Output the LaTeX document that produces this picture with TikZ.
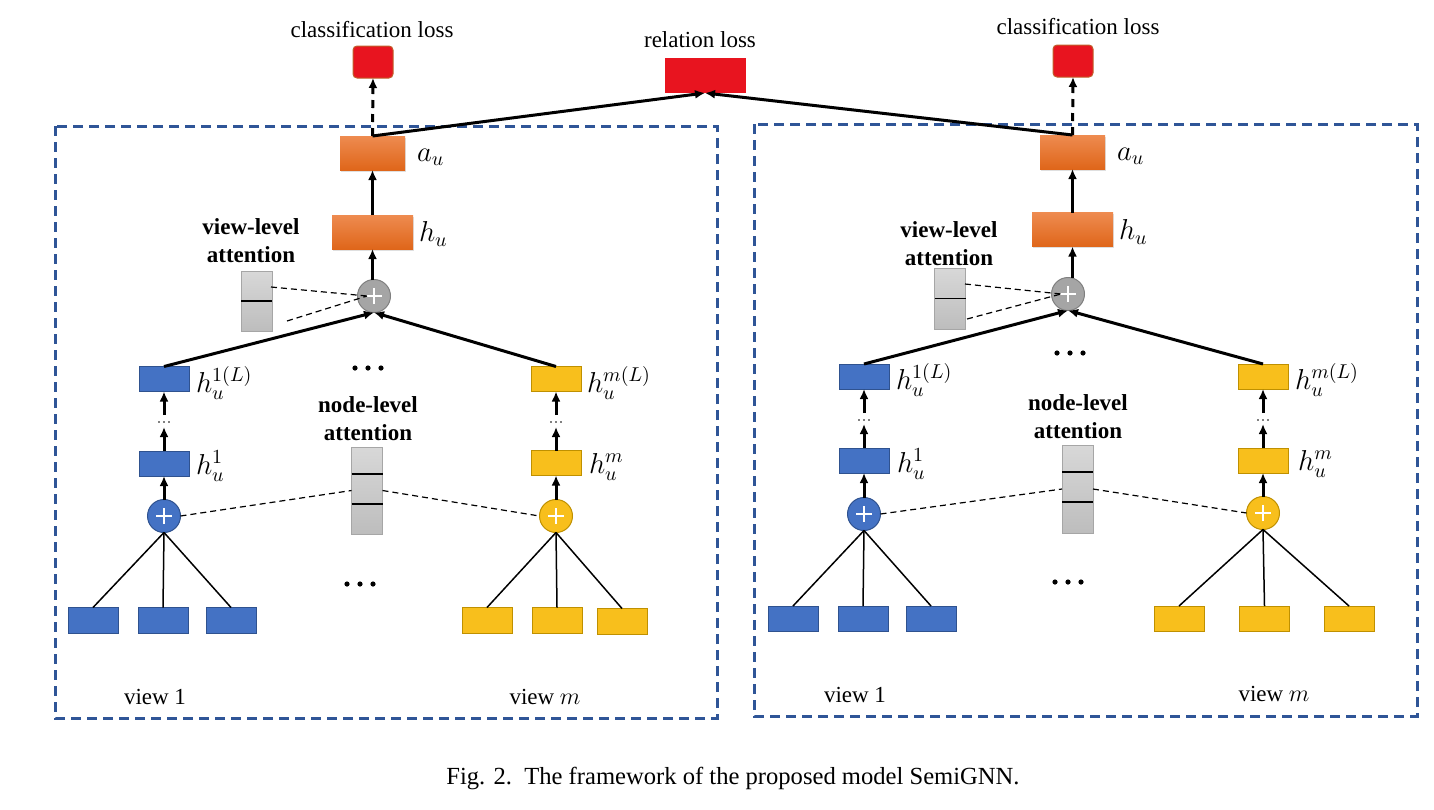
\documentclass[tikz,border=0pt]{standalone}
\usepackage{fontspec}
\setmainfont{Liberation Serif}
\usetikzlibrary{arrows.meta,calc,shadows}
\definecolor{bfill}{HTML}{4472C4}
\definecolor{bdraw}{HTML}{2F528F}
\definecolor{yfill}{HTML}{F8BF1C}
\definecolor{ydraw}{HTML}{BF9000}
\definecolor{otop}{HTML}{EE8B50}
\definecolor{obot}{HTML}{DF661A}
\definecolor{rfill}{HTML}{E8141F}
\definecolor{rdraw}{HTML}{C0602A}
\definecolor{gtop}{HTML}{D8D8D8}
\definecolor{gbot}{HTML}{BDBDBD}
\definecolor{gdraw}{HTML}{A6A6A6}
\definecolor{cgray}{HTML}{A5A5A5}
\definecolor{cgraydraw}{HTML}{7F7F7F}
\definecolor{framec}{HTML}{2F5597}
\tikzset{
  every node/.style={inner sep=0pt, outer sep=0pt},
  lab/.style={font=\fontsize{11.5}{13.8}\selectfont},
  blab/.style={font=\fontsize{11.5}{14}\selectfont\bfseries, align=center},
  mlab/.style={font=\fontsize{14}{16}\selectfont, anchor=west},
  capt/.style={font=\fontsize{12.3}{14}\selectfont},
  framebox/.style={draw=framec, line width=1.5pt, dash pattern=on 5pt off 3pt},
  bluebox/.style={rectangle, fill=bfill, draw=bdraw, line width=0.5pt, minimum width=25pt, minimum height=12.5pt},
  yelbox/.style={rectangle, fill=yfill, draw=ydraw, line width=0.5pt, minimum width=25pt, minimum height=12.5pt},
  orbox/.style={rectangle, top color=otop, bottom color=obot, draw=none, minimum height=17pt,
    drop shadow={opacity=0.25, shadow xshift=0.6pt, shadow yshift=-0.8pt}},
  redbox/.style={rectangle, fill=rfill, draw=rdraw, line width=0.5pt},
  gbar/.style={rectangle, top color=gtop, bottom color=gbot, draw=gdraw, line width=0.5pt, minimum width=15.5pt},
  plusc/.style={circle, minimum size=16.5pt, line width=0.5pt,
    path picture={
      \draw[white, line width=0.6pt] ([xshift=-4pt]path picture bounding box.center) -- ([xshift=4pt]path picture bounding box.center);
      \draw[white, line width=0.6pt] ([yshift=-4pt]path picture bounding box.center) -- ([yshift=4pt]path picture bounding box.center);}},
  bluec/.style={plusc, fill=bfill, draw=bdraw},
  yelc/.style={plusc, fill=yfill, draw=ydraw},
  grayc/.style={plusc, fill=cgray, draw=cgraydraw},
  arr/.style={line width=1.5pt, -{Latex[length=5pt,width=4.5pt]}},
  darr/.style={line width=1.5pt, dash pattern=on 4pt off 3pt, -{Latex[length=5pt,width=4.5pt]}},
  thin/.style={line width=0.75pt},
  att/.style={line width=0.6pt, dash pattern=on 3pt off 2pt},
}
\begin{document}
\begin{tikzpicture}[x=0.5pt,y=-0.5pt]
\useasboundingbox (0,0) rectangle (1434,809);
% frames
\draw[framebox] (55,126) rectangle (717,718);
\draw[framebox] (754,124) rectangle (1417,716);

% losses
\node[redbox, rounded corners=2pt, minimum width=20pt, minimum height=16pt] (clsL) at (373,62) {};
\node[redbox, draw=none, minimum width=40.5pt, minimum height=17.5pt] (rel) at (705,75.5) {};
\node[redbox, rounded corners=2pt, minimum width=20pt, minimum height=16pt] (clsR) at (1073,61) {};
\node[lab] (tclsL) at (372,30) {classification loss};
\node[lab] (trel) at (700,40) {relation loss};
\node[lab] (tclsR) at (1078,27) {classification loss};

% ===== left panel =====
\node[orbox, minimum width=32.5pt] (auL) at (372.5,153) {};
\node[orbox, minimum width=40.5pt] (huL) at (372.5,232) {};
\node[mlab] (tauL) at (417,157) {$a_u$};
\node[mlab] (thuL) at (419,234) {$h_u$};
\node[grayc] (vcL) at (374,296) {};
\node[gbar, minimum height=30pt] (vbL) at (256.5,301) {};
\draw[line width=0.8pt] (vbL.west) -- (vbL.east);
\node[blab] (tvL) at (251,241) {view-level\\attention};
\node[bluebox] (h1LL) at (164,379) {};
\node[yelbox] (hmLL) at (556,379) {};
\node[bluebox] (h1L) at (164,463.5) {};
\node[yelbox] (hmL) at (556,463) {};
\node[mlab] (th1LL) at (196,383) {$h_u^{1(L)}$};
\node[mlab] (thmLL) at (587,383) {$h_u^{m(L)}$};
\node[mlab] (th1L) at (196,466) {$h_u^{1}$};
\node[mlab] (thmL) at (589,467) {$h_u^{m}$};
\node[bluec] (c1L) at (164,516) {};
\node[yelc] (cmL) at (556,516) {};
\node[gbar, minimum height=43.5pt] (nbL) at (367,490.5) {};
\draw[line width=0.8pt] (nbL.west |- 0,474) -- (nbL.east |- 0,474);
\draw[line width=0.8pt] (nbL.west |- 0,504) -- (nbL.east |- 0,504);
\node[blab] (tnL) at (368,418.5) {node-level\\attention};
\node[bluebox, minimum height=13pt] (lb1L) at (93,620.5) {};
\node[bluebox, minimum height=13pt] (lb2L) at (163,620.5) {};
\node[bluebox, minimum height=13pt] (lb3L) at (231,620.5) {};
\node[yelbox, minimum height=13pt] (ly1L) at (487,620.5) {};
\node[yelbox, minimum height=13pt] (ly2L) at (557,620.5) {};
\node[yelbox, minimum height=13pt] (ly3L) at (622,621.5) {};
\node[lab] (tv1L) at (155,697) {view 1};
\node[lab] (tvmL) at (545,697) {view $m$};

% ===== right panel =====
\node[orbox, minimum width=32.5pt] (auR) at (1072.5,152) {};
\node[orbox, minimum width=40.5pt] (huR) at (1072.5,229.5) {};
\node[mlab] (tauR) at (1117,156) {$a_u$};
\node[mlab] (thuR) at (1119,232) {$h_u$};
\node[grayc] (vcR) at (1068,294) {};
\node[gbar, minimum height=30.5pt] (vbR) at (950,298.5) {};
\draw[line width=0.8pt] (vbR.west) -- (vbR.east);
\node[blab] (tvR) at (949,244) {view-level\\attention};
\node[bluebox] (h1LR) at (864,376.5) {};
\node[yelbox] (hmLR) at (1263,376.5) {};
\node[bluebox] (h1R) at (864,460.5) {};
\node[yelbox] (hmR) at (1263,460.5) {};
\node[mlab] (th1LR) at (896,380) {$h_u^{1(L)}$};
\node[mlab] (thmLR) at (1295,380) {$h_u^{m(L)}$};
\node[mlab] (th1R) at (897,464) {$h_u^{1}$};
\node[mlab] (thmR) at (1298,464) {$h_u^{m}$};
\node[bluec] (c1R) at (864,514) {};
\node[yelc] (cmR) at (1263,513) {};
\node[gbar, minimum height=44pt] (nbR) at (1077.5,489) {};
\draw[line width=0.8pt] (nbR.west |- 0,472) -- (nbR.east |- 0,472);
\draw[line width=0.8pt] (nbR.west |- 0,502) -- (nbR.east |- 0,502);
\node[blab] (tnR) at (1078,416.5) {node-level\\attention};
\node[bluebox] (lb1R) at (793,618.5) {};
\node[bluebox] (lb2R) at (863,618.5) {};
\node[bluebox] (lb3R) at (931,618.5) {};
\node[yelbox] (ly1R) at (1179,618.5) {};
\node[yelbox] (ly2R) at (1264.5,618.5) {};
\node[yelbox] (ly3R) at (1349,618.5) {};
\node[lab] (tv1R) at (855,695) {view 1};
\node[lab] (tvmR) at (1274,694) {view $m$};

% caption
\node[capt] (cap) at (733,778) {Fig. 2.\ \ The framework of the proposed model SemiGNN.};

% ===== connectors =====
% losses
\draw[darr] (auL.north) -- (clsL.south);
\draw[darr] (auR.north) -- (clsR.south);
\draw[arr] (auL.north) -- (rel.south);
\draw[arr] (auR.north) -- (rel.south);
% left chain
\draw[arr] (huL.north) -- (auL.south);
\draw[arr] (vcL.north -| huL.south) -- (huL.south);
\draw[arr] (h1LL.north) -- (vcL.south);
\draw[arr] (hmLL.north) -- (vcL.south);
\coordinate (d1La) at (164,427);
\coordinate (d1Lb) at (164,415);
\coordinate (dmLa) at (556,427);
\coordinate (dmLb) at (556,415);
\draw[arr] (h1L.north) -- (d1La);
\draw[arr] (d1Lb) -- (h1LL.south);
\draw[arr] (hmL.north) -- (dmLa);
\draw[arr] (dmLb) -- (hmLL.south);
\draw[arr] (c1L.north) -- (h1L.south);
\draw[arr] (cmL.north) -- (hmL.south);
% attention dashes left
\coordinate (vaL1) at (271,287);
\coordinate (vaL2) at (287,321);
\coordinate (vcLin) at (367,296);
\draw[att] (vaL1) -- (vcLin);
\draw[att] (vaL2) -- (vcLin);
\draw[att] (c1L.east) -- (nbL.west);
\draw[att] (nbL.east) -- (cmL.west);
% leaves left
\draw[thin] (c1L.south) -- (lb1L.north);
\draw[thin] (c1L.south) -- (lb2L.north);
\draw[thin] (c1L.south) -- (lb3L.north);
\draw[thin] (cmL.south) -- (ly1L.north);
\draw[thin] (cmL.south) -- (ly2L.north);
\draw[thin] (cmL.south) -- (ly3L.north);
% right chain
\draw[arr] (huR.north) -- (auR.south);
\draw[arr] (vcR.north -| huR.south) -- (huR.south);
\draw[arr] (h1LR.north) -- (vcR.south);
\draw[arr] (hmLR.north) -- (vcR.south);
\coordinate (d1Ra) at (864,424);
\coordinate (d1Rb) at (864,413);
\coordinate (dmRa) at (1263,424);
\coordinate (dmRb) at (1263,413);
\draw[arr] (h1R.north) -- (d1Ra);
\draw[arr] (d1Rb) -- (h1LR.south);
\draw[arr] (hmR.north) -- (dmRa);
\draw[arr] (dmRb) -- (hmLR.south);
\draw[arr] (c1R.north) -- (h1R.south);
\draw[arr] (cmR.north) -- (hmR.south);
\coordinate (vaR1) at (965,284);
\coordinate (vaR2) at (967,319);
\coordinate (vcRin) at (1061,294);
\draw[att] (vaR1) -- (vcRin);
\draw[att] (vaR2) -- (vcRin);
\draw[att] (c1R.east) -- (nbR.west);
\draw[att] (nbR.east) -- (cmR.west);
\draw[thin] (c1R.south) -- (lb1R.north);
\draw[thin] (c1R.south) -- (lb2R.north);
\draw[thin] (c1R.south) -- (lb3R.north);
\draw[thin] (cmR.south) -- (ly1R.north);
\draw[thin] (cmR.south) -- (ly2R.north);
\draw[thin] (cmR.south) -- (ly3R.north);

% ellipsis dots
\foreach \cx/\cy in {368/368, 360/584, 1070/353, 1068/582} {
  \foreach \dx in {-13,0,13} \fill (\cx+\dx,\cy) circle[radius=1.3pt];
}
\foreach \cx/\cy in {164/422, 556/422, 864/420, 1263/420} {
  \foreach \dx in {-5,0,5} \fill (\cx+\dx,\cy) circle[radius=0.45pt];
}
\end{tikzpicture}
\end{document}
